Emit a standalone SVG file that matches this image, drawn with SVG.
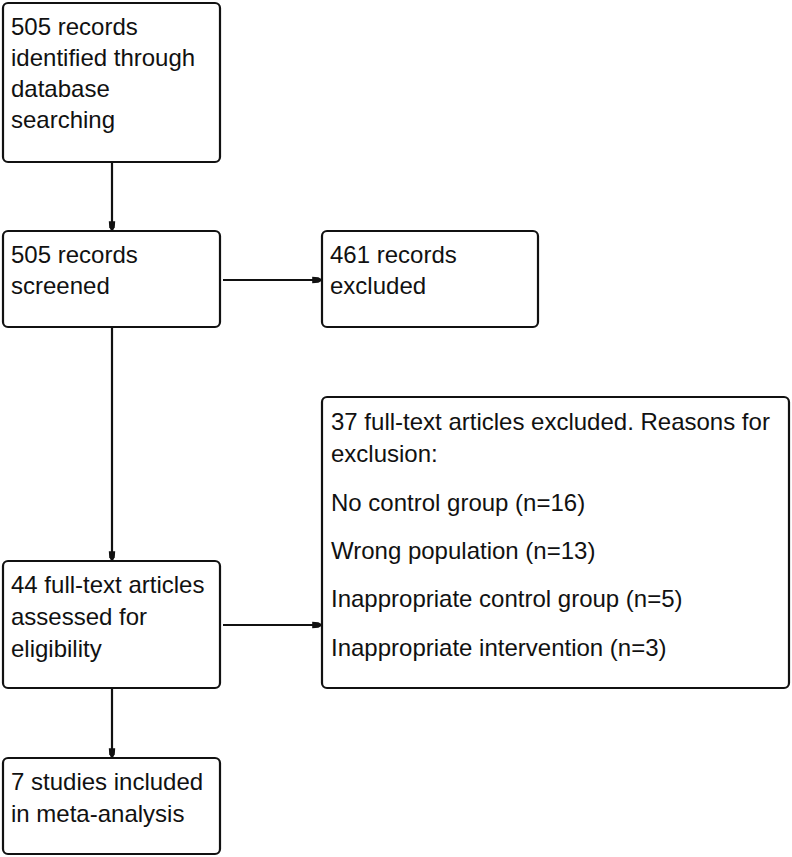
<svg xmlns="http://www.w3.org/2000/svg" width="792" height="857" viewBox="0 0 792 857">
<defs>
<style>
.box{fill:#fff;stroke:#111;stroke-width:2.2}
.t{font-family:"Liberation Sans",Arial,sans-serif;font-size:24px;fill:#111}
.c{stroke:#111;stroke-width:2.2;fill:none}
</style>
<marker id="ah" viewBox="0 0 10 10" refX="10" refY="5" markerWidth="4" markerHeight="3.6" orient="auto" markerUnits="strokeWidth" preserveAspectRatio="none">
<path d="M0,1 L7,1.5 L10,3.5 L10,6.5 L7,8.5 L0,9 Z" fill="#111"/>
</marker>
</defs>
<rect width="792" height="857" fill="#fff"/>
<g id="connectors">
<line class="c" x1="112" y1="162" x2="112" y2="230" marker-end="url(#ah)"/>
<line class="c" x1="223" y1="280" x2="321" y2="280" marker-end="url(#ah)"/>
<line class="c" x1="112" y1="327" x2="112" y2="560" marker-end="url(#ah)"/>
<line class="c" x1="223" y1="625" x2="321" y2="625" marker-end="url(#ah)"/>
<line class="c" x1="112" y1="688" x2="112" y2="757" marker-end="url(#ah)"/>
</g>
<g id="n1">
<rect class="box" x="3" y="3" width="217" height="159" rx="5"/>
<text class="t" x="11" y="35">505 records</text>
<text class="t" x="11" y="66">identified through</text>
<text class="t" x="11" y="97">database</text>
<text class="t" x="11" y="128">searching</text>
</g>
<g id="n2">
<rect class="box" x="3" y="231" width="217" height="96" rx="5"/>
<text class="t" x="11" y="263">505 records</text>
<text class="t" x="11" y="294">screened</text>
</g>
<g id="n3">
<rect class="box" x="322" y="231" width="216" height="96" rx="5"/>
<text class="t" x="330" y="263">461 records</text>
<text class="t" x="330" y="294">excluded</text>
</g>
<g id="n4">
<rect class="box" x="3" y="561" width="217" height="127" rx="5"/>
<text class="t" x="11" y="593">44 full-text articles</text>
<text class="t" x="11" y="625">assessed for</text>
<text class="t" x="11" y="657">eligibility</text>
</g>
<g id="n5">
<rect class="box" x="322" y="397" width="467" height="291" rx="5"/>
<text class="t" x="331" y="430">37 full-text articles excluded. Reasons for</text>
<text class="t" x="331" y="462">exclusion:</text>
<text class="t" x="331" y="511">No control group (n=16)</text>
<text class="t" x="331" y="559">Wrong population (n=13)</text>
<text class="t" x="331" y="607">Inappropriate control group (n=5)</text>
<text class="t" x="331" y="656">Inappropriate intervention (n=3)</text>
</g>
<g id="n6">
<rect class="box" x="3" y="758" width="217" height="96" rx="5"/>
<text class="t" x="11" y="790">7 studies included</text>
<text class="t" x="11" y="822">in meta-analysis</text>
</g>
</svg>
